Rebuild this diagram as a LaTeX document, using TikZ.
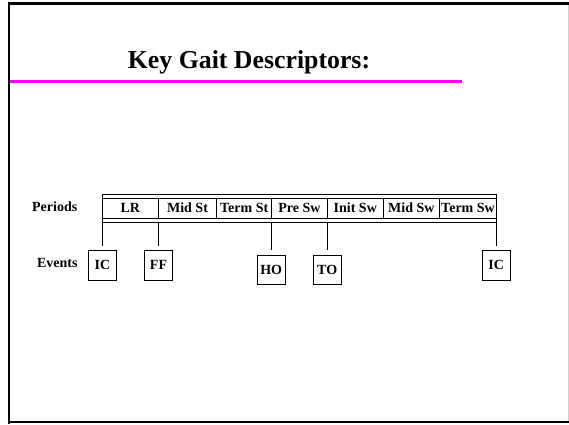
\documentclass[tikz,border=0pt]{standalone}
\usepackage{fontspec}
\setmainfont{Liberation Serif}
\definecolor{rule}{HTML}{FF00FF}
\definecolor{edgegray}{HTML}{D0D0D0}
\begin{document}
\begin{tikzpicture}[x=1pt,y=-1pt,
  cell/.style={draw,line width=0.8pt,minimum height=20pt,inner sep=0pt,
    font=\bfseries\fontsize{14}{16}\selectfont},
  evbox/.style={draw,line width=0.8pt,minimum width=28.4pt,minimum height=29.3pt,inner sep=0pt,
    font=\bfseries\fontsize{14}{16}\selectfont},
  lbl/.style={inner sep=0pt,font=\bfseries\fontsize{14}{16}\selectfont},
  drop/.style={line width=0.8pt}]
\useasboundingbox (0,0) rectangle (569,424);
\fill[white] (0,0) rectangle (569,424);
% slide frame
\draw[edgegray,line width=1pt] (568,3) -- (568,422);
\draw[black,line width=2.7pt] (8,3.3) -- (569,3.3);
\draw[black,line width=2pt] (9,2) -- (9,424);
\draw[black,line width=2.7pt] (8,422) -- (569,422);
% title
\node[inner sep=0pt,anchor=base,font=\bfseries\fontsize{25.8}{29}\selectfont] (title) at (249,68.3) {Key Gait Descriptors:};
\draw[rule,line width=3.3pt] (10,81.7) -- (462,81.7);
% table
\node[draw,line width=0.8pt,minimum width=394.4pt,minimum height=28.2pt,inner sep=0pt] (tab) at (299.5,208.6) {};
\node[cell,minimum width=56pt] (lr) at (130.3,208) {LR};
\node[cell,minimum width=58.4pt] (midst) at (187.5,208) {Mid St};
\node[cell,minimum width=55pt] (termst) at (244.2,208) {Term St};
\node[cell,minimum width=55.6pt] (presw) at (299.5,208) {Pre Sw};
\node[cell,minimum width=56pt] (initsw) at (355.3,208) {Init Sw};
\node[cell,minimum width=56pt] (midsw) at (411.3,208) {Mid Sw};
\node[cell,minimum width=57.4pt] (termsw) at (468,208) {Term Sw};
% labels
\node[lbl] (periods) at (54.7,207) {Periods};
\node[lbl] (events) at (57.3,263) {Events};
% event boxes
\node[evbox] (icA) at (102.5,265.3) {IC};
\node[evbox] (ff) at (158.5,265.3) {FF};
\node[evbox] (ho) at (271.2,269.7) {HO};
\node[evbox] (to) at (327.2,269.7) {TO};
\node[evbox] (icB) at (496.2,265.3) {IC};
% drop lines
\draw[drop] (icA.north |- tab.south) -- ([yshift=4.7pt]icA.north);
\draw[drop] (ff.north |- tab.south) -- ([yshift=4.7pt]ff.north);
\draw[drop] (ho.north |- tab.south) -- ([yshift=4.7pt]ho.north);
\draw[drop] (to.north |- tab.south) -- ([yshift=4.7pt]to.north);
\draw[drop] (icB.north |- tab.south) -- ([yshift=4.7pt]icB.north);
\end{tikzpicture}
\end{document}
